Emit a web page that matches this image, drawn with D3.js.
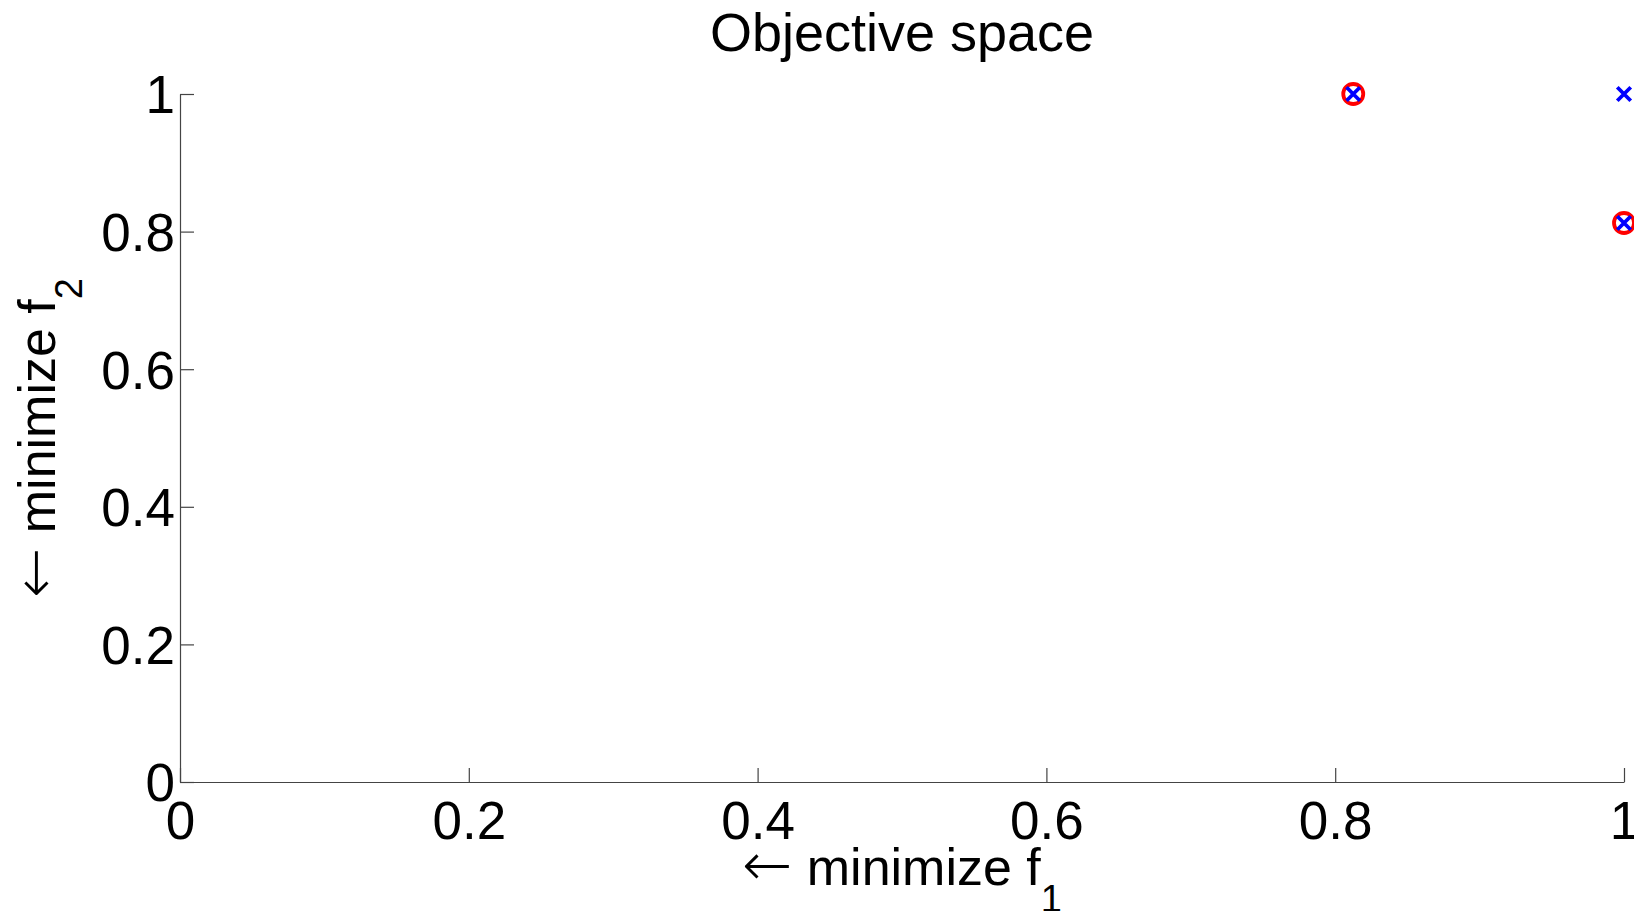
<!DOCTYPE html>
<html>
<head>
<meta charset="utf-8">
<script src="https://cdn.jsdelivr.net/npm/d3@7"></script>
<style>
  body { margin: 0; background: #fff; }
  text { font-family: "Liberation Sans", Arial, sans-serif; fill: #000; }
</style>
</head>
<body>
<svg id="chart"></svg>
<script>
const width = 1634;
const height = 911;

// Points in objective space
const f1 = [0.8125, 1, 1];
const f2 = [1, 1, 0.8125];
// which points are circled (the non-dominated ones)
const circled = [true, false, true];

const xTicks = [0, 0.2, 0.4, 0.6, 0.8, 1];
const yTicks = [0, 0.2, 0.4, 0.6, 0.8, 1];

const title = "Objective space";
const arrow = "\u2190";
const xLabel = " minimize f";
const yLabel = " minimize f";

const layout = {left: 180, right: 1624, top: 94, bottom: 782};
const tickLen = 14;
const fontSize = 53;

let svg = d3.select("#chart")
    .attr("width", width)
    .attr("height", height);

let x = d3.scaleLinear().domain([0, 1]).range([layout.left, layout.right]);
let y = d3.scaleLinear().domain([0, 1]).range([layout.bottom, layout.top]);

// Axes: only left and bottom lines, ticks point inward
let xAxis = d3.axisBottom(x)
    .tickValues(xTicks)
    .tickSizeInner(-tickLen)
    .tickSizeOuter(0)
    .tickPadding(0)
    .tickFormat(d3.format("~g"));

let gx = svg.append("g")
    .attr("transform", `translate(0,${layout.bottom})`)
    .call(xAxis);
gx.selectAll("text")
    .attr("y", 57)
    .attr("dy", 0)
    .style("font-size", fontSize + "px")
    .style("font-family", "'Liberation Sans', Arial, sans-serif");

let yAxis = d3.axisLeft(y)
    .tickValues(yTicks)
    .tickSizeInner(-tickLen)
    .tickSizeOuter(0)
    .tickPadding(0)
    .tickFormat(d3.format("~g"));

let gy = svg.append("g")
    .attr("transform", `translate(${layout.left},0)`)
    .call(yAxis);
gy.selectAll("text")
    .attr("x", -5)
    .attr("dy", "0.358em")
    .style("font-size", fontSize + "px")
    .style("font-family", "'Liberation Sans', Arial, sans-serif");

svg.selectAll(".domain, .tick line")
    .attr("stroke", "#444")
    .attr("stroke-width", 1.2);

// Title
svg.append("text")
    .attr("x", (layout.left + layout.right) / 2)
    .attr("y", 51)
    .attr("text-anchor", "middle")
    .style("font-size", "54px")
    .text(title);

// axis label: arrow in a font with a long thin arrow, then text + subscript
function addLabel(sel, sub)
{
    sel.append("tspan")
        .style("font-family", "'DejaVu Sans', sans-serif")
        .style("font-weight", 200)
        .style("font-size", "60px")
        .text(arrow);
    sel.append("tspan").text(sub === "1" ? xLabel : yLabel);
    sel.append("tspan").attr("dy", 27).style("font-size", "38px").text(sub);
}

let xl = svg.append("text")
    .attr("x", (layout.left + layout.right) / 2)
    .attr("y", 885)
    .attr("text-anchor", "middle")
    .style("font-size", "52px");
addLabel(xl, "1");

// Y label, rotated
let yl = svg.append("text")
    .attr("transform", `translate(55,${(layout.top + layout.bottom) / 2}) rotate(-90)`)
    .attr("text-anchor", "middle")
    .style("font-size", "52px");
addLabel(yl, "2");

// Markers
let pts = f1.map((d, i) => ({f1: d, f2: f2[i], c: circled[i]}));

svg.selectAll(".ring")
    .data(pts.filter(p => p.c))
    .enter().append("circle")
    .attr("cx", p => x(p.f1))
    .attr("cy", p => y(p.f2))
    .attr("r", 10)
    .attr("fill", "none")
    .attr("stroke", "#ff0000")
    .attr("stroke-width", 3.8);

let cross = d3.symbol().type(d3.symbolX).size(120);
svg.selectAll(".cross")
    .data(pts)
    .enter().append("path")
    .attr("transform", p => `translate(${x(p.f1)},${y(p.f2)})`)
    .attr("d", cross)
    .attr("fill", "none")
    .attr("stroke", "#0000ff")
    .attr("stroke-width", 3.8);
</script>
</body>
</html>
